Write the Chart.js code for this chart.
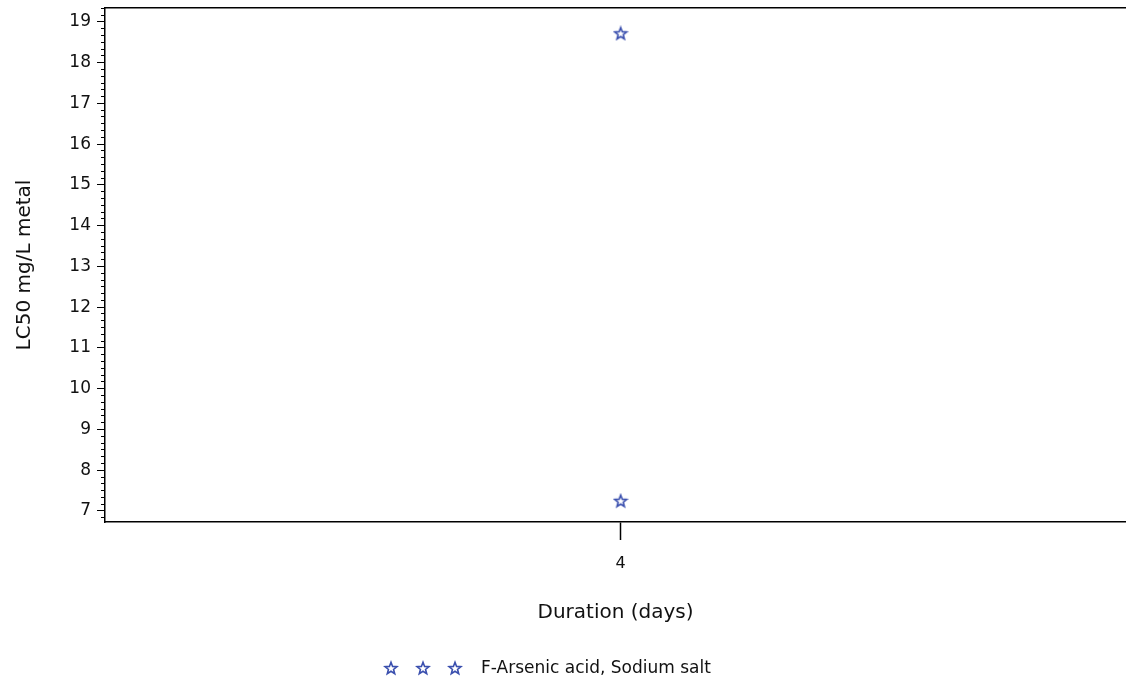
<!DOCTYPE html>
<html>
<head>
<meta charset="utf-8">
<script src="https://cdn.jsdelivr.net/npm/chart.js@4/dist/chart.umd.min.js"></script>
<style>
  html, body { margin: 0; padding: 0; background: #fff; overflow: hidden; width: 1126px; height: 683px; }
  canvas { display: block; }
</style>
</head>
<body>
<canvas id="c" width="1134" height="683"></canvas>
<script>
// data
const durations = [4, 4];
const lc50 = [18.72, 7.25];
const seriesLabel = 'F-Arsenic acid, Sodium salt';
const xTicks = [4];
const yTicks = [7, 8, 9, 10, 11, 12, 13, 14, 15, 16, 17, 18, 19];
const xTitle = 'Duration (days)';
const yTitle = 'LC50 mg/L metal';

const starColor = '#3a4fae';
const FONT = '"DejaVu Sans", sans-serif';

// outlined 5-point star used as point marker
function makeStar() {
  const s = 16, c = document.createElement('canvas');
  c.width = s; c.height = s;
  const g = c.getContext('2d');
  g.strokeStyle = starColor; g.lineWidth = 1.6; g.lineJoin = 'miter';
  g.beginPath();
  for (let i = 0; i < 10; i++) {
    const r = i % 2 ? 2.7 : 6.3;
    const a = -Math.PI / 2 + i * Math.PI / 5;
    const x = s / 2 + r * Math.cos(a), y = s / 2 + 0.6 + r * Math.sin(a);
    i ? g.lineTo(x, y) : g.moveTo(x, y);
  }
  g.closePath(); g.stroke();
  return c;
}
const star = makeStar();

const points = durations.map((d, i) => ({ x: d, y: lc50[i] }));

// SAS-style legend: three symbols then the label
const sasLegend = {
  id: 'sasLegend',
  afterDraw(chart) {
    const ctx = chart.ctx, y = 668;
    ctx.save();
    [391, 423, 455].forEach(x => ctx.drawImage(star, x - star.width / 2, y - star.height / 2));
    ctx.font = '17px ' + FONT;
    ctx.fillStyle = '#111';
    ctx.textBaseline = 'middle';
    ctx.fillText(chart.data.datasets[0].label, 481, y + 1);
    ctx.restore();
  }
};

const noPad = s => { s.paddingTop = 0; s.paddingBottom = 0; s.paddingLeft = 0; s.paddingRight = 0; };

new Chart(document.getElementById('c'), {
  type: 'scatter',
  data: {
    datasets: [{
      label: seriesLabel,
      data: points,
      pointStyle: star,
      pointRadius: 7,
      pointHoverRadius: 7
    }]
  },
  plugins: [sasLegend],
  options: {
    responsive: false,
    animation: false,
    layout: { padding: { top: 8, left: 0, right: 0, bottom: 0 } },
    plugins: { legend: { display: false }, tooltip: { enabled: false } },
    scales: {
      x: {
        type: 'linear', position: 'bottom', min: 3, max: 4.98,
        afterBuildTicks: s => { s.ticks = xTicks.map(v => ({ value: v })); },
        afterFit: s => { s.height = 161; noPad(s); },
        border: { display: true, color: '#000', width: 1.5 },
        grid: { drawOnChartArea: false, drawTicks: true, tickLength: 18, tickColor: '#000', tickWidth: 1.5 },
        ticks: { color: '#111', font: { family: FONT, size: 16 }, padding: 14, maxRotation: 0 },
        title: { display: true, text: xTitle, color: '#111', font: { family: FONT, size: 20 }, padding: { top: 0, bottom: 58 } }
      },
      xTop: {
        type: 'linear', position: 'top', min: 3, max: 4.98,
        afterFit: s => { s.height = 0; noPad(s); },
        border: { display: true, color: '#000', width: 1.5 },
        grid: { drawOnChartArea: false, drawTicks: false },
        ticks: { display: false }
      },
      y: {
        type: 'linear', position: 'left', weight: 1, min: 6.73, max: 19.34,
        afterBuildTicks: s => { s.ticks = yTicks.map(v => ({ value: v })); },
        afterFit: s => { s.width = 105; noPad(s); },
        border: { display: true, color: '#000', width: 1.5 },
        grid: { drawOnChartArea: false, drawTicks: true, tickLength: 8, tickColor: '#000', tickWidth: 1 },
        ticks: { color: '#111', font: { family: FONT, size: 17 }, padding: 6 },
        title: { display: true, text: yTitle, color: '#111', font: { family: FONT, size: 20 }, padding: { top: 13, bottom: 0 } }
      },
      yMinor: {
        type: 'linear', position: 'left', weight: 0, min: 6.73, max: 19.34,
        afterBuildTicks: s => {
          const t = [];
          for (let k = 6; k <= 19; k++) for (let j = 1; j < 6; j++) {
            const v = k + j / 6;
            if (v >= s.min && v <= s.max) t.push({ value: v });
          }
          s.ticks = t;
        },
        afterFit: s => { s.width = 0; noPad(s); },
        border: { display: false },
        grid: { drawOnChartArea: false, drawTicks: true, tickLength: 4, tickColor: '#000', tickWidth: 1 },
        ticks: { display: false, autoSkip: false }
      }
    }
  }
});
</script>
</body>
</html>
